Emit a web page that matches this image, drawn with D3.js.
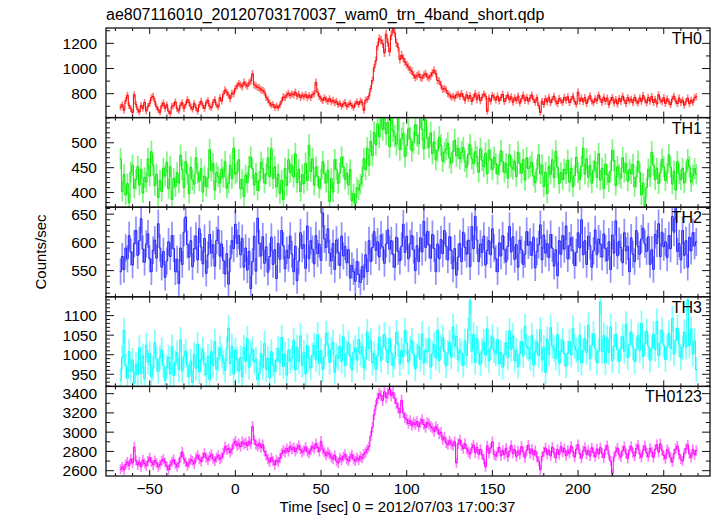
<!DOCTYPE html>
<html>
<head>
<meta charset="utf-8">
<script src="https://cdn.jsdelivr.net/npm/d3@7/dist/d3.min.js"></script>
<style>
  html, body { margin: 0; padding: 0; background: #fff; }
  svg { display: block; font-family: "Liberation Sans", Arial, Helvetica, sans-serif; }
</style>
</head>
<body>
<svg id="chart" width="717" height="516"></svg>
<script>
// ---------------- data ----------------
const titleText = "ae807116010_20120703170037_wam0_trn_4band_short.qdp";
const xLabelText = "Time [sec] 0 = 2012/07/03 17:00:37";
const yLabelText = "Counts/sec";
const binStart = -67;   // time of first 1-s bin (sec)
const binWidth = 1;
const xDomain = [-75.5, 277];
const xMajorTicks = [-50, 0, 50, 100, 150, 200, 250];
const xMinorStep = 10;

const panelNames = ["TH0", "TH1", "TH2", "TH3", "TH0123"];
const panelColors = ["#ff0000", "#00ee00", "#2222ff", "#00ffff", "#ff00ff"];
const panelDomains = [[610, 1322], [370.6, 550.6], [503.6, 662.3], [919, 1148], [2545, 3475]];
const panelMajorTicks = [[800, 1000, 1200], [400, 450, 500], [550, 600, 650], [950, 1000, 1050, 1100], [2600, 2800, 3000, 3200, 3400]];
const panelMinorSteps = [100, 10, 10, 10, 100];

const th0 = [
693,712,668,745,788,705,681,650,792,716,672,655,708,684,731,662,700,724,768,779,
738,695,671,652,704,726,683,712,661,642,699,707,735,680,664,709,728,681,716,752,
731,694,676,722,689,660,712,741,705,683,729,746,699,688,731,752,710,694,768,741,
795,830,812,790,760,805,798,840,862,880,870,855,890,872,860,885,900,958,870,862,
850,845,830,826,812,770,752,725,708,715,690,702,688,710,742,775,768,790,802,785,
798,790,812,780,795,770,788,776,792,768,785,770,792,800,890,812,778,760,745,768,
752,740,760,735,748,728,740,712,725,700,718,730,698,712,725,705,690,720,735,715,
742,730,668,748,755,782,840,905,1005,1062,1180,1238,1225,1198,1125,1272,1205,1132,1262,1318,
1282,1205,1168,1072,1105,1080,1052,1030,1012,990,978,948,928,942,955,930,925,948,960,935,
925,942,965,985,960,905,900,868,835,842,830,800,790,772,780,765,790,795,780,802,
775,748,792,761,785,738,770,802,752,790,744,771,798,782,660,765,740,788,772,750,
781,742,770,795,738,764,790,752,775,731,768,746,782,725,760,789,745,772,740,766,
790,752,731,768,705,650,741,712,760,735,772,728,755,780,738,722,762,745,730,771,
748,776,729,755,781,738,716,812,742,765,735,770,722,757,784,741,728,760,745,790,
758,731,772,740,765,712,748,770,725,755,718,762,738,781,748,722,768,742,756,728,
770,742,725,766,739,785,751,726,769,740,778,730,756,718,792,750,735,768,722,760,
735,712,758,780,741,722,765,730,750,708,739,765,720,748,730,768,776
];

const th1 = [
468,402,436,395,418,380,441,455,409,426,452,415,447,399,430,421,468,433,482,455,
414,437,390,425,402,449,433,461,408,452,386,428,412,440,419,475,446,410,462,437,
398,451,425,417,470,439,423,448,401,433,412,429,486,444,458,405,440,432,419,447,
431,462,409,418,455,428,489,437,441,466,408,426,392,435,420,452,471,448,415,439,
404,423,461,448,419,437,470,432,488,428,452,411,437,398,425,386,449,414,466,440,
455,431,478,420,447,402,436,418,459,424,495,442,468,415,451,433,409,427,462,438,
420,445,382,428,401,466,447,418,440,471,452,427,439,415,446,384,398,378,410,405,
417,432,468,446,489,455,503,474,521,496,538,512,556,527,549,518,541,492,562,524,
513,497,548,486,508,519,472,495,528,509,484,501,536,515,498,552,527,488,546,510,
491,520,478,502,466,484,511,495,463,480,487,499,470,459,482,505,474,489,468,481,
490,463,451,477,496,468,458,482,472,441,488,465,452,479,438,485,467,446,471,458,
437,455,484,462,441,458,429,476,452,447,463,432,481,458,439,466,425,470,448,452,
461,433,420,447,476,438,455,412,441,398,452,437,466,430,483,451,418,440,426,447,
438,465,421,449,412,434,471,440,426,453,489,437,468,431,455,419,445,462,430,478,
425,449,408,457,436,421,443,485,464,414,452,437,429,470,441,458,423,446,438,456,
412,431,463,440,395,419,372,410,447,432,481,455,426,449,418,440,467,452,424,439,
476,451,417,443,405,462,438,426,449,419,441,466,452,421,435,448,437
];

const th2 = [
548,575,552,590,571,612,583,560,598,621,577,603,642,588,565,597,615,571,548,586,
604,572,633,590,556,584,538,567,601,575,612,589,548,570,527,590,561,618,645,596,
574,603,557,589,611,569,624,592,562,607,545,578,614,581,596,558,603,622,576,597,
568,544,580,526,571,603,589,632,598,612,578,607,556,590,551,584,518,566,611,549,
643,598,576,610,563,592,547,575,609,561,587,536,598,570,621,594,553,586,572,611,
579,548,593,532,567,617,589,596,554,629,571,603,588,562,612,580,597,568,652,606,
591,624,581,567,598,552,604,583,559,611,576,593,564,587,537,559,548,531,566,543,
529,557,538,578,548,603,566,591,619,586,601,574,613,592,563,597,622,588,603,579,
556,609,584,567,593,632,582,611,571,598,612,587,550,594,566,608,583,637,591,619,
596,572,614,589,548,597,571,605,580,621,593,569,610,586,553,589,542,574,598,566,
618,591,579,604,557,628,589,646,604,566,597,582,611,560,586,603,578,624,590,571,
548,599,576,612,587,566,593,628,583,610,570,596,556,604,587,561,579,619,595,601,
577,609,555,584,596,631,569,613,581,598,573,614,590,558,587,541,603,579,612,588,
629,571,594,608,586,559,582,617,590,640,578,603,561,611,594,556,585,622,578,606,
597,574,615,589,568,601,552,613,581,638,576,602,591,564,617,585,593,548,608,579,
566,621,593,579,606,625,597,584,610,561,587,552,614,598,633,575,618,592,601,573,
612,589,646,618,665,584,598,569,621,577,603,556,609,585,617,594,601
];

const th3 = [
935,992,1062,971,940,1008,958,986,927,976,949,1018,952,997,938,1024,981,1003,944,966,
1031,989,957,992,1012,973,934,968,993,951,1020,947,981,1005,962,1038,958,995,1009,972,
944,984,929,1001,965,1027,956,988,1013,975,949,996,936,1008,972,1034,963,990,1017,998,
981,960,1015,1068,977,1022,951,1012,989,958,993,944,1019,983,1041,967,1002,1014,981,988,
936,952,1004,968,1029,963,991,941,1008,975,957,987,1016,979,1044,970,1001,948,1011,984,
992,1036,961,1019,983,1048,972,1006,951,1023,990,966,999,1024,987,1051,978,1010,962,995,
1054,1027,980,1013,1031,955,998,991,1021,983,1046,973,1004,1029,996,961,1007,1018,986,1039,
1002,1021,966,989,1058,1016,1037,979,1003,962,998,1045,985,1019,1052,1013,980,1041,1004,972,
994,1057,1028,977,1011,995,1062,1030,981,1016,1036,1002,964,997,1023,988,1053,979,1012,1007,
1041,968,1003,1026,991,1063,985,1019,1044,1008,971,1006,1031,994,1071,1022,1047,987,1011,1004,
973,1035,998,1064,1138,1009,1052,980,1042,1004,976,1011,1033,999,1066,984,1018,1045,1010,1002,
1039,977,1006,968,1001,1030,993,1061,1014,1048,985,1011,969,1003,1034,997,1072,1021,1016,990,
1049,974,1007,1033,998,1064,986,1019,955,1040,1001,1069,1022,1014,991,1051,978,1009,1037,1003,
971,1004,1034,999,1068,1021,1012,987,1050,979,1010,1041,1006,1075,990,1024,1054,1017,980,1009,
1135,1008,1049,979,1043,1006,1071,985,1021,1052,1013,982,1016,1046,1009,1078,993,1026,1058,1020,
983,1014,1049,1011,1080,995,1029,1060,1022,986,1017,1053,1013,1085,998,1031,1063,1024,988,1019,
1055,1016,1092,1002,1037,1068,1027,992,1018,1058,1020,1140,1023,1066,1001,1036,962
];

const th0123 = [
2615,2640,2610,2665,2690,2655,2720,2680,2845,2705,2660,2690,2640,2710,2675,2650,2700,2735,2690,2660,
2705,2680,2640,2665,2700,2720,2685,2650,2610,2660,2690,2715,2670,2640,2680,2740,2795,2720,2690,2650,
2680,2715,2700,2670,2735,2760,2720,2695,2740,2780,2735,2710,2745,2770,2725,2700,2735,2760,2720,2740,
2780,2850,2815,2830,2790,2820,2880,2905,2860,2880,2850,2900,2875,2890,2860,2905,2880,3060,2920,2870,
2855,2880,2840,2870,2800,2760,2720,2690,2735,2700,2660,2710,2690,2730,2780,2810,2790,2830,2800,2850,
2820,2840,2800,2830,2860,2820,2790,2810,2845,2800,2780,2815,2850,2830,2880,2840,2800,2905,2820,2790,
2760,2790,2770,2740,2720,2760,2700,2680,2735,2710,2745,2770,2720,2700,2740,2765,2720,2700,2735,2710,
2745,2730,2770,2790,2820,2850,2960,3050,3180,3280,3350,3400,3380,3330,3420,3360,3400,3445,3380,3410,
3350,3300,3250,3200,3330,3200,3150,3130,3090,3120,3070,3100,3080,3110,3060,3095,3130,3080,3050,3100,
3085,3060,3040,3010,3055,3030,2980,3000,2920,2950,2890,2870,2910,2880,2860,2900,2680,2880,2920,2860,
2830,2880,2825,2795,2772,2838,2866,2785,2842,2770,2822,2765,2720,2640,2858,2782,2835,2900,2768,2752,
2790,2842,2755,2810,2768,2835,2742,2801,2862,2779,2820,2748,2806,2770,2851,2795,2735,2812,2866,2780,
2825,2762,2808,2741,2700,2610,2748,2795,2836,2770,2812,2753,2845,2786,2733,2820,2768,2850,2792,2830,
2755,2812,2780,2856,2798,2741,2822,2870,2776,2730,2805,2842,2768,2811,2752,2838,2790,2745,2826,2772,
2840,2781,2735,2818,2860,2765,2700,2570,2742,2801,2835,2768,2742,2809,2850,2777,2728,2815,2852,2788,
2751,2830,2866,2772,2740,2815,2858,2786,2745,2831,2795,2738,2822,2870,2792,2880,2812,2758,2725,2818,
2792,2735,2690,2776,2826,2855,2770,2722,2700,2781,2830,2868,2775,2738,2822,2765,2810
];

const seriesValues = [th0, th1, th2, th3, th0123];

// ---------------- layout ----------------
const W = 717, H = 516;
const pLeft = 106, pRight = 710, pTop = 28, pBottom = 476;
const panelH = (pBottom - pTop) / panelNames.length;
const fontSize = 15.5;

const svg = d3.select("#chart");
svg.append("rect").attr("width", W).attr("height", H).attr("fill", "#fff");

const x = d3.scaleLinear().domain(xDomain).range([pLeft, pRight]);
const xMinor = d3.range(-70, 271, xMinorStep).filter(v => !xMajorTicks.includes(v));

const defs = svg.append("defs");

panelNames.forEach((name, k) => {
  const y0 = pTop + k * panelH, y1 = y0 + panelH;
  const y = d3.scaleLinear().domain(panelDomains[k]).range([y1, y0]);
  const vals = seriesValues[k];
  const color = panelColors[k];
  const g = svg.append("g");

  defs.append("clipPath").attr("id", "clip" + k)
    .append("rect").attr("x", pLeft).attr("y", y0).attr("width", pRight - pLeft).attr("height", panelH);

  const data = vals.map((v, i) => ({ t: binStart + i * binWidth, v: v, e: Math.sqrt(v * binWidth) / binWidth }));

  const plot = g.append("g").attr("clip-path", "url(#clip" + k + ")");
  // error bars
  plot.append("g").selectAll("line").data(data).join("line")
    .attr("x1", d => x(d.t)).attr("x2", d => x(d.t))
    .attr("y1", d => y(d.v - d.e)).attr("y2", d => y(d.v + d.e))
    .attr("stroke", color).attr("stroke-opacity", 0.5).attr("stroke-width", 1.7);
  // step line
  const pts = [];
  data.forEach(d => { pts.push([d.t - binWidth / 2, d.v]); pts.push([d.t + binWidth / 2, d.v]); });
  plot.append("path").datum(pts)
    .attr("d", d3.line().x(p => x(p[0])).y(p => y(p[1])))
    .attr("fill", "none").attr("stroke", color).attr("stroke-width", 1);

  // frame
  g.append("rect").attr("x", pLeft).attr("y", y0).attr("width", pRight - pLeft).attr("height", panelH)
    .attr("fill", "none").attr("stroke", "#111").attr("stroke-width", 1.3);

  const tickG = g.append("g").attr("stroke", "#111").attr("stroke-width", 1);
  // x ticks top & bottom (inward)
  const xt = xMajorTicks.map(v => ({ v, len: 6 })).concat(xMinor.map(v => ({ v, len: 3 })));
  xt.forEach(t => {
    tickG.append("line").attr("x1", x(t.v)).attr("x2", x(t.v)).attr("y1", y0).attr("y2", y0 + t.len);
    tickG.append("line").attr("x1", x(t.v)).attr("x2", x(t.v)).attr("y1", y1).attr("y2", y1 - t.len);
  });
  // y ticks left & right (inward)
  const dom = panelDomains[k], step = panelMinorSteps[k];
  const majors = panelMajorTicks[k];
  const minors = d3.range(Math.ceil(dom[0] / step) * step, dom[1], step).filter(v => !majors.includes(v));
  const yt = majors.map(v => ({ v, len: 8 })).concat(minors.map(v => ({ v, len: 4 })));
  yt.forEach(t => {
    tickG.append("line").attr("x1", pLeft).attr("x2", pLeft + t.len).attr("y1", y(t.v)).attr("y2", y(t.v));
    tickG.append("line").attr("x1", pRight).attr("x2", pRight - t.len).attr("y1", y(t.v)).attr("y2", y(t.v));
  });
  // y tick labels
  g.append("g").selectAll("text").data(majors).join("text")
    .attr("x", pLeft - 9).attr("y", d => y(d)).attr("dy", "0.36em")
    .attr("text-anchor", "end").attr("font-size", fontSize).attr("fill", "#000")
    .text(d => d);
  // panel name
  g.append("text").attr("x", pRight - 8).attr("y", y0 + 16)
    .attr("text-anchor", "end").attr("font-size", 16).attr("fill", "#000").text(name);
});

// x tick labels (bottom)
svg.append("g").selectAll("text").data(xMajorTicks).join("text")
  .attr("x", d => x(d)).attr("y", pBottom + 17.5)
  .attr("text-anchor", "middle").attr("font-size", fontSize).attr("fill", "#000")
  .text(d => d < 0 ? "\u2212" + Math.abs(d) : d);

// title
svg.append("text").attr("x", pLeft).attr("y", 19.5)
  .attr("font-size", 16).attr("fill", "#000").text(titleText);

// x label
svg.append("text").attr("x", 397.5).attr("y", 511.5).attr("text-anchor", "middle")
  .attr("font-size", 15).attr("fill", "#000").text(xLabelText);

// y label
svg.append("text").attr("transform", "translate(46,252) rotate(-90)")
  .attr("text-anchor", "middle").attr("font-size", 15).attr("fill", "#000").text(yLabelText);
</script>
</body>
</html>
